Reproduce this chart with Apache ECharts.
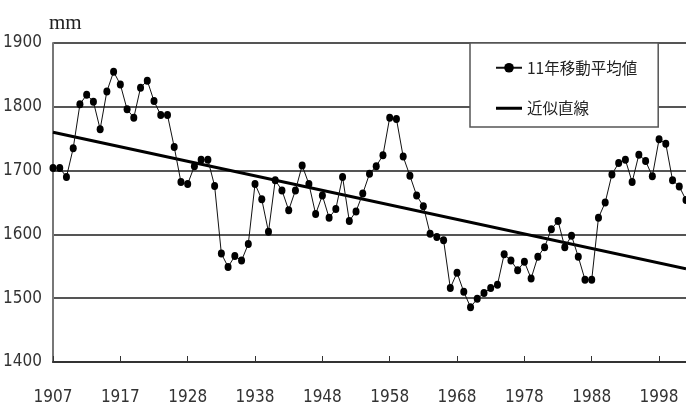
<!DOCTYPE html>
<html>
<head>
<meta charset="utf-8">
<script src="https://cdn.jsdelivr.net/npm/echarts@6/dist/echarts.min.js"></script>
<style>
  html, body { margin: 0; padding: 0; background: #fff; }
  #chart { width: 686px; height: 410px; }
</style>
</head>
<body>
<div id="chart"></div>
<script>
// Tick labels shown every 10 points on the x axis
const tickLabels = ['1907', '1917', '1928', '1938', '1948', '1958', '1968', '1978', '1988', '1998'];

// 11-year moving average (mm), one value per point
const movingAvg = [
    1704, 1704, 1690, 1735, 1804, 1819, 1808, 1765, 1824, 1855,
    1835, 1796, 1783, 1830, 1841, 1809, 1787, 1787, 1737, 1682,
    1679, 1707, 1717, 1717, 1676, 1570, 1549, 1566, 1559, 1585,
    1679, 1655, 1604, 1685, 1669, 1638, 1669, 1708, 1679, 1632,
    1661, 1626, 1640, 1690, 1621, 1636, 1664, 1695, 1707, 1724,
    1783, 1781, 1722, 1692, 1661, 1644, 1601, 1596, 1591, 1516,
    1540, 1510, 1486, 1499, 1508, 1516, 1521, 1569, 1559, 1544,
    1557, 1531, 1565, 1580, 1608, 1621, 1580, 1598, 1565, 1529,
    1529, 1626, 1650, 1694, 1712, 1717, 1682, 1725, 1715, 1691,
    1749, 1742, 1685, 1675, 1654
];

// Approximation line: values at first and last point
const trendStart = 1760;
const trendEnd = 1546;

const categories = movingAvg.map((v, i) => String(i));
const lastIndex = movingAvg.length - 1;

const narrowFont = '"Liberation Sans Narrow", "DejaVu Sans Condensed", "Liberation Sans", sans-serif';

const chart = echarts.init(document.getElementById('chart'));

const option = {
    backgroundColor: '#ffffff',
    animation: false,
    title: {
        text: 'mm',
        left: 44,
        top: 8,
        textStyle: {
            fontFamily: 'Liberation Serif',
            fontWeight: 'normal',
            fontSize: 21,
            color: '#222'
        }
    },
    grid: {
        left: 53,
        right: 0,
        top: 43,
        bottom: 48
    },
    legend: {
        orient: 'vertical',
        left: 470,
        top: 43,
        backgroundColor: '#ffffff',
        borderColor: '#555',
        borderWidth: 1.5,
        borderRadius: 0,
        padding: [17, 21, 11, 25],
        itemWidth: 26,
        itemHeight: 12,
        itemGap: 25,
        textStyle: {
            fontFamily: 'Noto Sans CJK JP',
            fontSize: 15.5,
            color: '#222'
        },
        data: [
            { name: '11年移動平均値' },
            { name: '近似直線', icon: 'path://M0,0 H26 V3 H0 Z' }
        ]
    },
    xAxis: {
        type: 'category',
        data: categories,
        boundaryGap: false,
        axisLine: { lineStyle: { color: '#333', width: 2 } },
        axisTick: {
            inside: true,
            length: 6,
            interval: 9,
            lineStyle: { color: '#333' }
        },
        axisLabel: {
            interval: 9,
            margin: 27,
            fontFamily: narrowFont,
            fontSize: 17,
            color: '#333',
            formatter: function (val, idx) {
                return tickLabels[idx / 10] || '';
            }
        },
        splitLine: { show: false }
    },
    yAxis: {
        type: 'value',
        min: 1400,
        max: 1900,
        interval: 100,
        axisLine: { show: true, lineStyle: { color: '#777', width: 2 } },
        axisTick: { show: false },
        axisLabel: {
            margin: 11,
            fontFamily: narrowFont,
            fontSize: 17,
            color: '#333',
            formatter: function (v) { return String(v); }
        },
        splitLine: { lineStyle: { color: '#555', width: 2 } }
    },
    series: [
        {
            name: '11年移動平均値',
            type: 'line',
            data: movingAvg,
            symbol: 'circle',
            symbolSize: [7, 8],
            showAllSymbol: true,
            itemStyle: { color: '#000' },
            lineStyle: { color: '#111', width: 1 },
            z: 3
        },
        {
            name: '近似直線',
            type: 'line',
            data: [[0, trendStart], [lastIndex, trendEnd]],
            symbol: 'none',
            itemStyle: { color: '#000' },
            lineStyle: { color: '#000', width: 3 },
            z: 2
        }
    ]
};

chart.setOption(option);
</script>
</body>
</html>
